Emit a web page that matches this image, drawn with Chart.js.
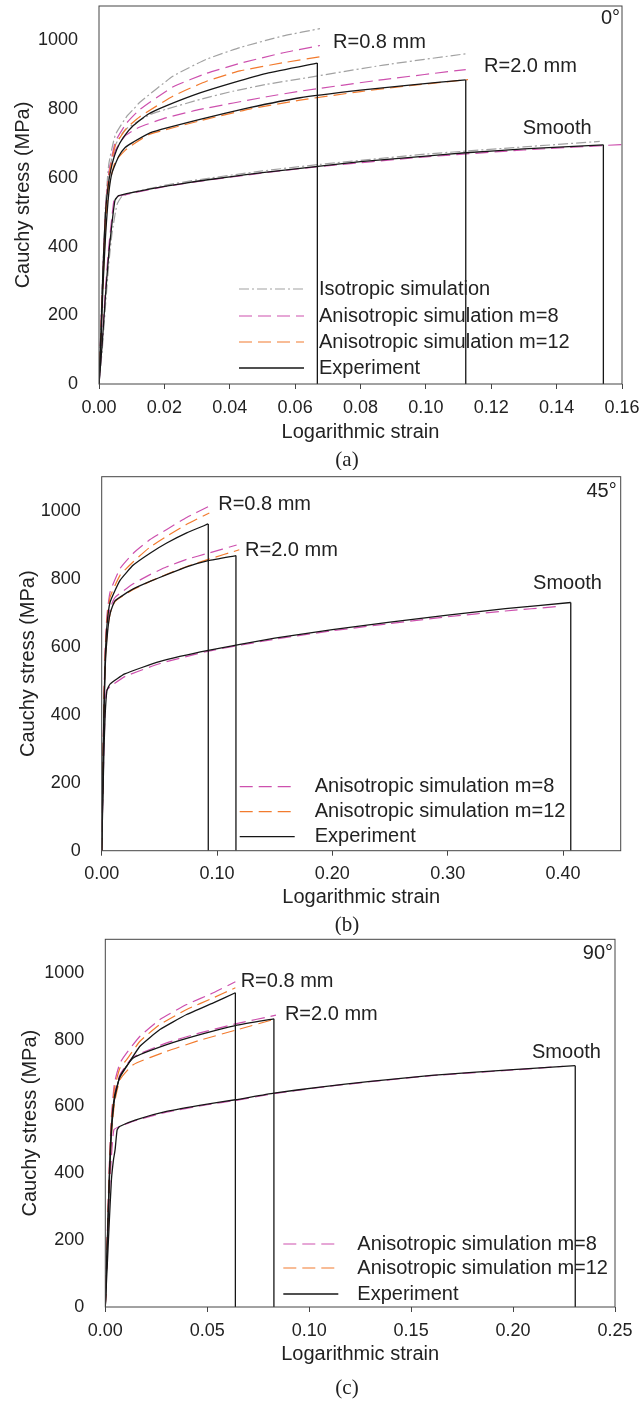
<!DOCTYPE html>
<html>
<head>
<meta charset="utf-8">
<script src="https://cdn.jsdelivr.net/npm/chart.js@4.4.1/dist/chart.umd.min.js"></script>
<style>
  html, body { margin: 0; padding: 0; background: #fff; }
  body { width: 641px; height: 1402px; position: relative; overflow: hidden; }
  canvas { position: absolute; left: 0; }
</style>
</head>
<body>
<canvas id="pa" width="641" height="470" style="top:0px;width:641px;height:470px"></canvas>
<canvas id="pb" width="641" height="465" style="top:470px;width:641px;height:465px"></canvas>
<canvas id="pc" width="641" height="467" style="top:935px;width:641px;height:467px"></canvas>
<script>
// ---- curves, [log strain, Cauchy stress MPa] ----

// (a) 0 deg
const a08Exp = [[0,0],[0.0006,150],[0.0012,330],[0.002,500],[0.003,590],[0.004,640],[0.0054,682],[0.0074,717],[0.0105,752],[0.015,785],[0.0207,810],[0.0309,847],[0.0411,877],[0.0513,904],[0.0668,934],[0.0668,0]];
const a20Exp = [[0,0],[0.0006,120],[0.0012,280],[0.002,430],[0.003,555],[0.004,615],[0.006,662],[0.008,688],[0.0105,704],[0.0156,731],[0.0309,770],[0.046,804],[0.0615,833],[0.08,855],[0.095,870],[0.1122,885],[0.1122,0]];
const aSmExp = [[0,0],[0.001,120],[0.002,260],[0.003,380],[0.004,470],[0.0049,535],[0.006,548],[0.01,557],[0.02,575],[0.03,590],[0.04,603],[0.05,615],[0.0676,634],[0.08,647],[0.1,663],[0.1122,673],[0.13,684],[0.1543,696],[0.1543,0]];
const a08Iso = [[0,0],[0.001,280],[0.002,520],[0.003,640],[0.005,725],[0.0085,779],[0.0105,799],[0.0125,820],[0.0227,896],[0.0329,945],[0.0431,979],[0.0564,1013],[0.0676,1034]];
const a20Iso = [[0,0],[0.001,280],[0.002,510],[0.003,615],[0.005,695],[0.008,740],[0.0156,784],[0.0207,800],[0.0309,828],[0.041,852],[0.0513,872],[0.0615,888],[0.087,928],[0.1122,961]];
const aSmIso = [[0,0],[0.001,100],[0.002,230],[0.003,350],[0.004,440],[0.0055,522],[0.007,546],[0.01,557],[0.02,578],[0.03,594],[0.05,620],[0.0676,639],[0.1,669],[0.13,690],[0.1532,706]];
const a08M8 = [[0,0],[0.001,260],[0.002,500],[0.003,615],[0.005,705],[0.0085,760],[0.0125,799],[0.0227,865],[0.0329,904],[0.0431,933],[0.0564,964],[0.0676,985]];
const a20M8 = [[0,0],[0.001,270],[0.002,495],[0.003,600],[0.005,680],[0.008,722],[0.0125,748],[0.0207,775],[0.0309,799],[0.0513,836],[0.0615,852],[0.087,886],[0.1122,915]];
const aSmM8 = [[0,0],[0.001,130],[0.002,280],[0.003,400],[0.004,490],[0.0047,541],[0.006,547],[0.01,555],[0.02,574],[0.03,589],[0.05,614],[0.0676,633],[0.1,661],[0.13,681],[0.16,697]];
const a08M12 = [[0,0],[0.001,250],[0.002,490],[0.003,605],[0.005,695],[0.0085,745],[0.0125,778],[0.0227,838],[0.0329,881],[0.0431,911],[0.0564,935],[0.0676,952]];
const a20M12 = [[0,0],[0.001,240],[0.002,460],[0.003,575],[0.005,648],[0.008,680],[0.0105,698],[0.0156,727],[0.0309,766],[0.046,800],[0.0615,826],[0.08,851],[0.095,868],[0.1129,886]];

// (b) 45 deg
const b08Exp = [[0,0],[0.001,220],[0.002,420],[0.003,560],[0.0045,660],[0.0072,730],[0.0159,795],[0.0274,840],[0.0419,875],[0.0564,905],[0.0737,935],[0.0924,961],[0.0924,0]];
const b20Exp = [[0,0],[0.001,200],[0.002,400],[0.003,540],[0.005,640],[0.0075,700],[0.0116,735],[0.0274,770],[0.0419,792],[0.0564,812],[0.0737,835],[0.0924,853],[0.1164,868],[0.1164,0]];
const bSmExp = [[0,0],[0.001,150],[0.002,300],[0.003,400],[0.0045,470],[0.0072,490],[0.02,520],[0.05,556],[0.0924,589],[0.15,625],[0.2,650],[0.25,672],[0.3,693],[0.35,712],[0.4067,730],[0.4067,0]];
const b08M8 = [[0,0],[0.001,240],[0.002,450],[0.003,590],[0.0045,690],[0.0072,760],[0.0159,830],[0.0274,875],[0.0419,915],[0.0564,945],[0.0737,980],[0.0924,1012]];
const b20M8 = [[0,0],[0.001,230],[0.002,430],[0.003,570],[0.005,665],[0.0075,715],[0.0116,745],[0.0274,785],[0.0419,812],[0.0564,835],[0.0737,857],[0.0924,875],[0.117,899]];
const bSmM8 = [[0,0],[0.001,160],[0.002,310],[0.003,410],[0.004,470],[0.0072,482],[0.02,512],[0.05,550],[0.0924,587],[0.15,622],[0.2,647],[0.25,668],[0.3,688],[0.35,705],[0.395,718]];
const b08M12 = [[0,0],[0.001,230],[0.002,440],[0.003,575],[0.0045,675],[0.0072,745],[0.0159,810],[0.0274,850],[0.0419,893],[0.0564,925],[0.0737,960],[0.0933,993]];
const b20M12 = [[0,0],[0.001,220],[0.002,420],[0.003,555],[0.005,650],[0.0075,700],[0.0116,733],[0.0274,768],[0.0419,792],[0.0564,813],[0.0737,836],[0.0924,857],[0.1193,885]];

// (c) 90 deg
const c08Exp = [[0,0],[0.001,200],[0.002,400],[0.003,540],[0.0045,630],[0.007,685],[0.0105,720],[0.017,780],[0.0268,830],[0.0399,875],[0.053,910],[0.0638,940],[0.0638,0]];
const c20Exp = [[0,0],[0.001,190],[0.002,380],[0.003,520],[0.0045,620],[0.0072,690],[0.0137,745],[0.0301,785],[0.0464,815],[0.0638,842],[0.0827,862],[0.0827,0]];
const cSmExp = [[0,0],[0.001,130],[0.002,260],[0.003,380],[0.004,440],[0.0048,470],[0.0058,530],[0.007,540],[0.015,560],[0.03,585],[0.05,607],[0.0638,620],[0.0827,640],[0.1053,658],[0.13,675],[0.16,693],[0.2,710],[0.2305,722],[0.2305,0]];
const c08M8 = [[0,0],[0.001,220],[0.002,430],[0.003,570],[0.0045,670],[0.0072,730],[0.0105,760],[0.017,810],[0.0268,860],[0.0399,905],[0.053,940],[0.0638,973]];
const c20M8 = [[0,0],[0.001,200],[0.002,400],[0.003,540],[0.0045,640],[0.0072,695],[0.0137,748],[0.0301,790],[0.0464,820],[0.0638,847],[0.0837,873]];
const cSmM8 = [[0,0],[0.001,180],[0.002,340],[0.003,450],[0.0042,530],[0.007,540],[0.015,558],[0.03,583],[0.05,605],[0.0638,618],[0.0827,638],[0.1053,657],[0.13,674],[0.16,692],[0.2,709],[0.2246,720]];
const c08M12 = [[0,0],[0.001,210],[0.002,415],[0.003,555],[0.0045,655],[0.0072,715],[0.0105,740],[0.017,795],[0.0268,845],[0.0399,890],[0.053,925],[0.0638,955]];
const c20M12 = [[0,0],[0.001,190],[0.002,380],[0.003,515],[0.0045,610],[0.0072,680],[0.0137,725],[0.0301,765],[0.0464,798],[0.0638,828],[0.0837,862]];

// ---- text ----
const xTitle = 'Logarithmic strain';
const yTitle = 'Cauchy stress (MPa)';
const curveNames = ['R=0.8 mm', 'R=2.0 mm', 'Smooth'];
const legendA = ['Isotropic simulation', 'Anisotropic simulation m=8', 'Anisotropic simulation m=12', 'Experiment'];
const legendBC = ['Anisotropic simulation m=8', 'Anisotropic simulation m=12', 'Experiment'];

const FONT = '"Liberation Sans", Arial, Helvetica, sans-serif';
const SERIF = '"Liberation Serif", "Times New Roman", serif';

const styles = {
  exp: { color: '#161616', width: 1.3, dash: [] },
  iso: { color: '#a2a2a2', width: 1.2, dash: [10, 3, 2, 3] },
  m8:  { color: '#cd50ae', width: 1.2, dash: [13, 6] },
  m12: { color: '#f27b2e', width: 1.2, dash: [13, 6] }
};
const drawOrder = { exp: 0, m12: 1, m8: 2, iso: 3 };

function ds(points, kind, tension) {
  const s = styles[kind];
  return {
    data: points.map(p => ({ x: p[0], y: p[1] })),
    showLine: true,
    pointRadius: 0,
    borderColor: s.color,
    borderWidth: s.width,
    borderDash: s.dash,
    tension: tension,
    fill: false,
    order: drawOrder[kind]
  };
}

// an experiment ends with a drop to zero at fracture: curve smooth, drop straight
function buildSets(curves) {
  const out = [];
  curves.forEach(([pts, kind]) => {
    const last = pts[pts.length - 1];
    if (kind === 'exp' && last[1] === 0) {
      out.push(ds(pts.slice(0, -1), kind, 0.15));
      out.push(ds(pts.slice(-2), kind, 0));
    } else {
      out.push(ds(pts, kind, 0.15));
    }
  });
  return out;
}

function makePanel(p) {
  const overlay = {
    id: 'overlay',
    afterDraw(chart) {
      const ctx = chart.ctx, a = chart.chartArea;
      const xs = chart.scales.x, ys = chart.scales.y;
      ctx.save();
      // frame
      ctx.strokeStyle = '#444';
      ctx.lineWidth = 1;
      ctx.strokeRect(a.left, a.top, a.right - a.left, a.bottom - a.top);

      ctx.fillStyle = '#222';
      ctx.font = '20px ' + FONT;
      ctx.textBaseline = 'middle';

      // curve group names
      ctx.textAlign = 'left';
      p.notes.forEach((n, i) => {
        ctx.fillText(curveNames[i], xs.getPixelForValue(n[0]), ys.getPixelForValue(n[1]));
      });

      // orientation
      ctx.textAlign = 'right';
      ctx.fillText(p.angle, a.right - p.angleDx, a.top + p.angleDy);

      // legend
      p.legend.forEach((lab, i) => {
        const s = styles[p.kinds[i]];
        const y = a.bottom + p.rows[i];
        ctx.strokeStyle = s.color;
        ctx.lineWidth = s.width;
        ctx.setLineDash(s.dash);
        ctx.beginPath();
        ctx.moveTo(a.left + p.lx0, y);
        ctx.lineTo(a.left + p.lx1, y);
        ctx.stroke();
        ctx.setLineDash([]);
        ctx.textAlign = 'left';
        ctx.fillText(lab, a.left + p.tx, y);
      });

      // axis titles
      ctx.textAlign = 'center';
      ctx.fillText(xTitle, (a.left + a.right) / 2, p.xTitleY);
      ctx.save();
      ctx.translate(p.yTitleX, (a.top + a.bottom) / 2);
      ctx.rotate(-Math.PI / 2);
      ctx.fillText(yTitle, 0, 0);
      ctx.restore();

      // caption
      ctx.font = '21px ' + SERIF;
      ctx.fillText(p.caption, p.capX, p.capY);
      ctx.restore();
    }
  };

  return new Chart(document.getElementById(p.id), {
    type: 'scatter',
    data: { datasets: buildSets(p.curves) },
    options: {
      responsive: false,
      animation: false,
      events: [],
      layout: { padding: p.pad },
      plugins: { legend: { display: false }, tooltip: { enabled: false } },
      scales: {
        x: {
          type: 'linear', min: 0, max: p.xMax,
          afterFit: s => { s.height = 40; s.paddingLeft = 0; s.paddingRight = 0; },
          border: { display: false },
          grid: { drawOnChartArea: false, drawTicks: true, tickLength: 5, color: '#444' },
          ticks: {
            stepSize: p.xStep, includeBounds: false, padding: 8,
            color: '#222', font: { family: FONT, size: 18 },
            callback: v => v.toFixed(2)
          }
        },
        y: {
          type: 'linear', min: 0, max: 1100,
          afterFit: s => { s.width = 60; s.paddingTop = 0; s.paddingBottom = 0; },
          border: { display: false },
          grid: { display: false },
          ticks: {
            stepSize: 200, includeBounds: false, padding: 13,
            color: '#222', font: { family: FONT, size: 18 },
            callback: v => String(v)
          }
        }
      }
    },
    plugins: [overlay]
  });
}

document.addEventListener('DOMContentLoaded', () => {
  makePanel({
    id: 'pa', xMax: 0.16, xStep: 0.02,
    pad: { left: 39, right: 19, top: 6, bottom: 46 },
    curves: [
      [a08Iso, 'iso'], [a20Iso, 'iso'], [aSmIso, 'iso'],
      [a08M8, 'm8'], [a20M8, 'm8'], [aSmM8, 'm8'],
      [a08M12, 'm12'], [a20M12, 'm12'],
      [a08Exp, 'exp'], [a20Exp, 'exp'], [aSmExp, 'exp']
    ],
    notes: [[0.0716, 993], [0.1178, 925], [0.1296, 744]],
    angle: '0°', angleDx: 2, angleDy: 12,
    legend: legendA, kinds: ['iso', 'm8', 'm12', 'exp'],
    rows: [-95, -68, -42, -16], lx0: 140, lx1: 205, tx: 220,
    xTitleY: 432, yTitleX: 23, caption: '(a)', capX: 347, capY: 460
  });

  makePanel({
    id: 'pb', xMax: 0.45, xStep: 0.1,
    pad: { left: 41.7, right: 20.3, top: 6.7, bottom: 44.3 },
    curves: [
      [b08M8, 'm8'], [b20M8, 'm8'], [bSmM8, 'm8'],
      [b08M12, 'm12'], [b20M12, 'm12'],
      [b08Exp, 'exp'], [b20Exp, 'exp'], [bSmExp, 'exp']
    ],
    notes: [[0.101, 1018], [0.1243, 882], [0.374, 787]],
    angle: '45°', angleDx: 4, angleDy: 15,
    legend: legendBC, kinds: ['m8', 'm12', 'exp'],
    rows: [-64, -39, -14], lx0: 138, lx1: 193, tx: 213,
    xTitleY: 427, yTitleX: 28, caption: '(b)', capX: 347, capY: 455
  });

  makePanel({
    id: 'pc', xMax: 0.25, xStep: 0.05,
    pad: { left: 45.3, right: 26, top: 4.3, bottom: 55 },
    curves: [
      [c08M8, 'm8'], [c20M8, 'm8'], [cSmM8, 'm8'],
      [c08M12, 'm12'], [c20M12, 'm12'],
      [c08Exp, 'exp'], [c20Exp, 'exp'], [cSmExp, 'exp']
    ],
    notes: [[0.0664, 973], [0.0881, 875], [0.2093, 760]],
    angle: '90°', angleDx: 2, angleDy: 14,
    legend: legendBC, kinds: ['m8', 'm12', 'exp'],
    rows: [-63, -39, -13], lx0: 178, lx1: 233, tx: 252,
    xTitleY: 419, yTitleX: 30, caption: '(c)', capX: 347, capY: 453
  });
});
</script>
</body>
</html>
